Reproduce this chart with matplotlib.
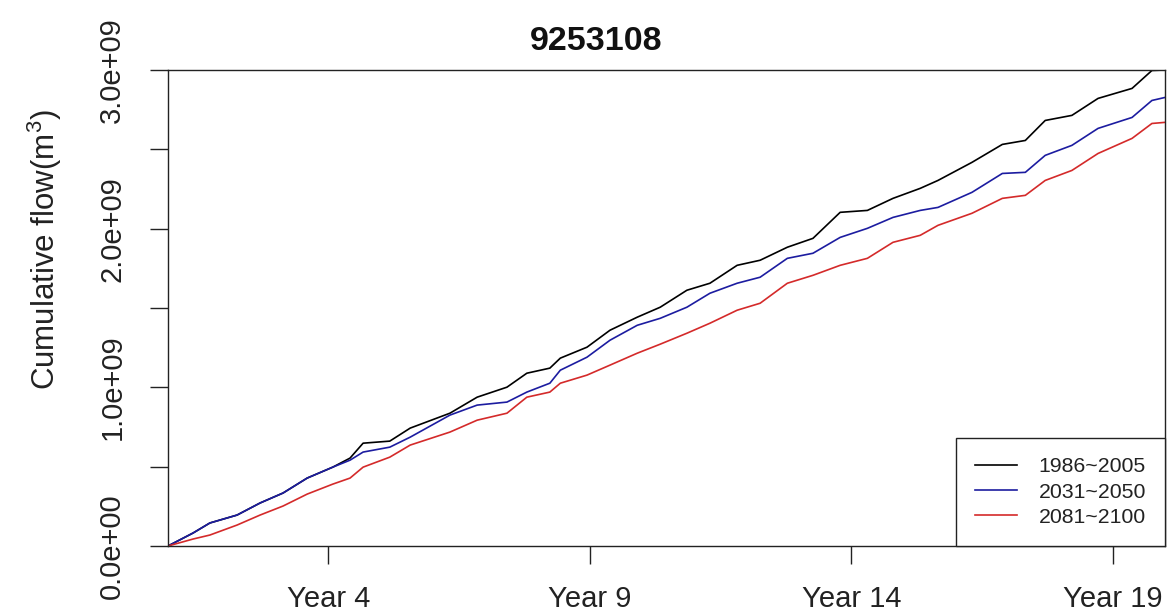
import numpy as np
import matplotlib
matplotlib.use("Agg")
import matplotlib.pyplot as plt

plt.rcParams['font.family'] = ['Liberation Sans', 'DejaVu Sans']
plt.rcParams['mathtext.default'] = 'regular'

# station id and time axis (years since start of record)
station = "9253108"
years = [0.00, 0.48, 0.80, 1.32, 1.76, 2.20, 2.66, 3.15, 3.48, 3.73,
         4.24, 4.63, 5.39, 5.91, 6.48, 6.86, 7.30, 7.50, 8.01, 8.45,
         8.97, 9.41, 9.92, 10.36, 10.88, 11.32, 11.84, 12.33, 12.85, 13.37,
         13.86, 14.38, 14.72, 15.37, 15.95, 16.39, 16.77, 17.28, 17.78, 18.43,
         18.81, 19.06]

# cumulative flow, 1e9 m3
flow_1986_2005 = [0.000, 0.082, 0.145, 0.195, 0.271, 0.334, 0.428, 0.497, 0.554, 0.648,
                  0.661, 0.743, 0.837, 0.938, 1.001, 1.089, 1.121, 1.184, 1.253, 1.360,
                  1.442, 1.505, 1.612, 1.656, 1.769, 1.801, 1.883, 1.939, 2.103, 2.115,
                  2.191, 2.254, 2.304, 2.418, 2.531, 2.556, 2.682, 2.714, 2.821, 2.884,
                  2.997, 3.000]
flow_2031_2050 = [0.000, 0.082, 0.145, 0.195, 0.271, 0.334, 0.428, 0.497, 0.541, 0.592,
                  0.623, 0.686, 0.825, 0.888, 0.907, 0.970, 1.026, 1.108, 1.190, 1.297,
                  1.391, 1.435, 1.505, 1.593, 1.656, 1.694, 1.813, 1.845, 1.945, 2.002,
                  2.071, 2.115, 2.134, 2.229, 2.348, 2.355, 2.462, 2.525, 2.632, 2.701,
                  2.808, 2.827]
flow_2081_2100 = [0.000, 0.044, 0.069, 0.132, 0.195, 0.252, 0.327, 0.390, 0.428, 0.497,
                  0.560, 0.636, 0.718, 0.793, 0.837, 0.938, 0.970, 1.026, 1.077, 1.140,
                  1.215, 1.272, 1.341, 1.404, 1.486, 1.530, 1.656, 1.706, 1.769, 1.813,
                  1.914, 1.958, 2.021, 2.097, 2.191, 2.210, 2.304, 2.367, 2.474, 2.569,
                  2.663, 2.670]

periods = ["1986~2005", "2031~2050", "2081~2100"]
colors = ["black", "#1c1ca0", "#d42a2a"]
tick_years = [4, 9, 14, 19]

series = [flow_1986_2005, flow_2031_2050, flow_2081_2100]

fig = plt.figure(figsize=(11.69, 6.16), dpi=100)
ax = fig.add_axes([168 / 1169, 70 / 616, 997 / 1169, 476 / 616])

for vals, label, c in zip(series, periods, colors):
    ax.plot(years, np.array(vals) * 1e9, color=c, lw=1.2, label=label)

ax.set_xlim(0, years[-1])
ax.set_ylim(0, 3e9)

# x ticks sit at the start of each labelled year
ax.set_xticks([y - 0.935 for y in tick_years])
ax.set_xticklabels(["Year %d" % y for y in tick_years])

yt = np.arange(0, 3.01e9, 1e9)
ax.set_yticks(yt)
ax.set_yticklabels(["%.1e" % v for v in yt])
ax.set_yticks(np.arange(0.5e9, 3e9, 1e9), minor=True)

ax.tick_params(axis='both', which='both', direction='out', length=13,
               width=1, labelsize=21, color='#222222', labelcolor='#222222')
ax.tick_params(axis='x', pad=15)
ax.tick_params(axis='y', pad=17, labelrotation=90)
for lab in ax.get_yticklabels():
    lab.set_va('center')

for sp in ax.spines.values():
    sp.set_linewidth(1)
    sp.set_color('#222222')

fig.text(596 / 1169, 1 - 50 / 616, station, ha='center', va='baseline',
         fontsize=24.5, fontweight='bold', color='#111111')
fig.text(45 / 1169, 1 - 250 / 616, r'Cumulative flow(m$^{3}$)', rotation=90,
         ha='center', va='center', fontsize=22.5, color='#222222')

leg = ax.legend(loc='lower right', bbox_to_anchor=(1, 0), borderaxespad=0,
                fancybox=False, edgecolor='#222222', framealpha=1,
                fontsize=15.3, handlelength=2.0, handletextpad=1.0,
                labelspacing=0.3, borderpad=0.9)
leg.get_frame().set_linewidth(1)
for t in leg.get_texts():
    t.set_color('#222222')

fig.savefig("out.png", dpi=100)
